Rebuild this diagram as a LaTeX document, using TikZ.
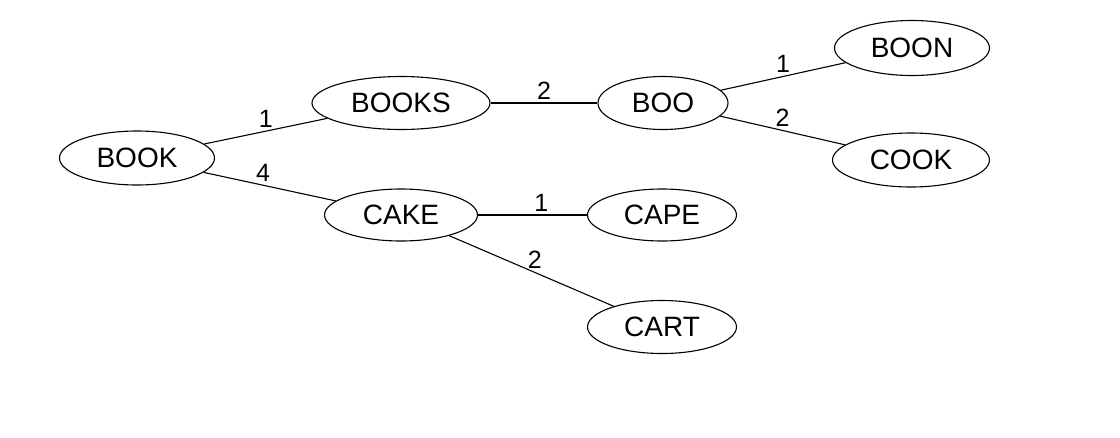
\documentclass[tikz,border=0pt]{standalone}
\usepackage{fontspec}
\setmainfont{Liberation Sans}
\usepackage{tikz}
\usetikzlibrary{shapes.geometric}

\begin{document}
\begin{tikzpicture}[x=1pt, y=-1pt, line width=1.1pt,
  word/.style={draw, ellipse, inner sep=0pt, font=\fontsize{28}{30}\selectfont},
  cost/.style={font=\fontsize{25}{27}\selectfont, above, inner sep=3pt}]
  \useasboundingbox (0,0) rectangle (1120,437);
  \node[word, minimum width=155, minimum height=54] (book)  at (137,158) {BOOK};
  \node[word, minimum width=178, minimum height=53] (books) at (401,103) {BOOKS};
  \node[word, minimum width=130, minimum height=53] (boo)   at (663,103) {BOO};
  \node[word, minimum width=155, minimum height=55] (boon)  at (912,48)  {BOON};
  \node[word, minimum width=157, minimum height=54] (cook)  at (911,160) {COOK};
  \node[word, minimum width=153, minimum height=52] (cake)  at (401,215) {CAKE};
  \node[word, minimum width=149, minimum height=52] (cape)  at (662,215) {CAPE};
  \node[word, minimum width=149, minimum height=53] (cart)  at (662,327) {CART};
  \draw (book) -- node[cost] {1} (books);
  \draw (book) -- node[cost, pos=0.45] {4} (cake);
  \draw (books) -- node[cost] {2} (boo);
  \draw (boo) -- node[cost] {1} (boon);
  \draw (boo) -- node[cost] {2} (cook);
  \draw (cake) -- node[cost, pos=0.58] {1} (cape);
  \draw (cake) -- node[cost, pos=0.52] {2} (cart);
\end{tikzpicture}
\end{document}
